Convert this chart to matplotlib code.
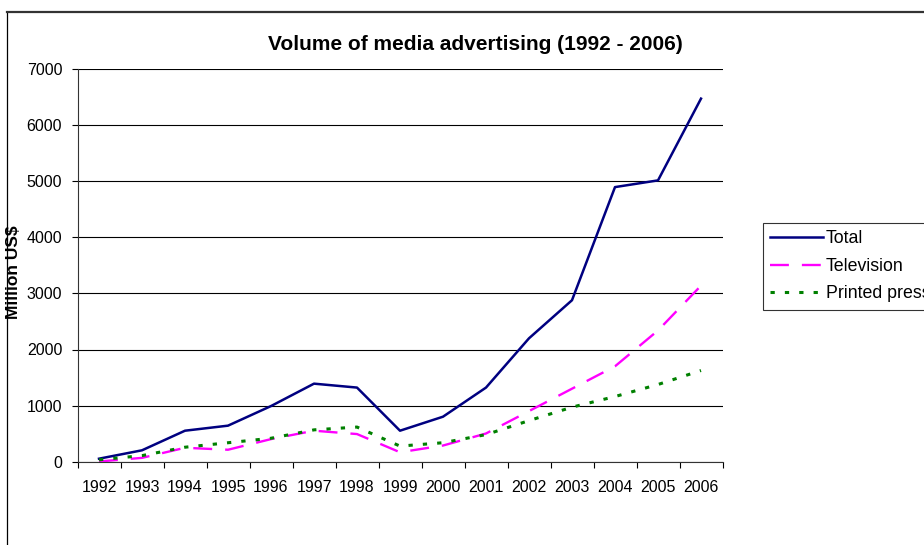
import numpy as np
import matplotlib.pyplot as plt
from matplotlib.lines import Line2D

plt.rcParams['font.family'] = ['Liberation Sans', 'DejaVu Sans']

years = ['1992', '1993', '1994', '1995', '1996', '1997', '1998', '1999',
         '2000', '2001', '2002', '2003', '2004', '2005', '2006']
total = [50, 200, 550, 640, 990, 1390, 1320, 550, 800, 1320, 2200, 2880, 4900, 5020, 6480]
television = [0, 65, 245, 210, 400, 550, 490, 165, 285, 500, 900, 1300, 1700, 2340, 3140]
printed_press = [30, 105, 255, 335, 415, 565, 615, 275, 335, 480, 730, 970, 1160, 1375, 1625]

W, H = 924, 545
fig = plt.figure(figsize=(W / 100, H / 100), dpi=100)
ax = fig.add_axes([77.5 / W, 1 - 461.5 / H, 645 / W, 392 / H])

x = np.arange(len(years))
ax.plot(x, total, color='#000080', lw=1.8, label='Total')
ax.plot(x, television, color='#FF00FF', lw=1.7, dashes=(8, 5.5), label='Television')
ax.plot(x, printed_press, color='#008000', lw=2.2, dashes=(1.4, 3.3), label='Printed press')

ax.set_xlim(-0.5, len(years) - 0.5)
ax.set_ylim(0, 7000)
ax.set_yticks(np.arange(0, 7001, 1000))
ax.set_xticks(x)
ax.set_xticklabels(years)
ax.set_xticks(np.arange(-0.5, len(years), 1), minor=True)
ax.tick_params(axis='x', which='major', length=0, pad=13, labelsize=11.5)
ax.tick_params(axis='x', which='minor', length=4, width=0.8, direction='out')
ax.tick_params(axis='y', length=4, width=0.8, direction='out', pad=7, labelsize=11.5)
ax.grid(axis='y', color='black', lw=0.8)
ax.set_axisbelow(True)
for side in ('top', 'right'):
    ax.spines[side].set_visible(False)
for side in ('left', 'bottom'):
    ax.spines[side].set_linewidth(0.8)
    ax.spines[side].set_color('#333333')

ax.set_ylabel('Million US$', fontsize=12.5, fontweight='bold')
ax.yaxis.set_label_coords(21.5 / W, 0.5, transform=fig.transFigure)
fig.text(475 / W, 1 - 44 / H, 'Volume of media advertising (1992 - 2006)',
         ha='center', va='center', fontsize=15, fontweight='bold')

leg = ax.legend(loc='upper left', bbox_to_anchor=(763 / W, 1 - 223 / H),
                bbox_transform=fig.transFigure, borderaxespad=0, fancybox=False,
                edgecolor='black', fontsize=12.8, handlelength=3.0,
                handletextpad=0.15, labelspacing=0.6, borderpad=0.4)
leg.get_frame().set_linewidth(0.8)

# chart frame
fig.add_artist(Line2D([7.5 / W, 7.5 / W], [0, 1 - 12 / H], color='black', lw=0.9))
fig.add_artist(Line2D([7 / W, 1], [1 - 12 / H, 1 - 12 / H], color='#333333', lw=1.6))

fig.savefig('out.png', dpi=100)
